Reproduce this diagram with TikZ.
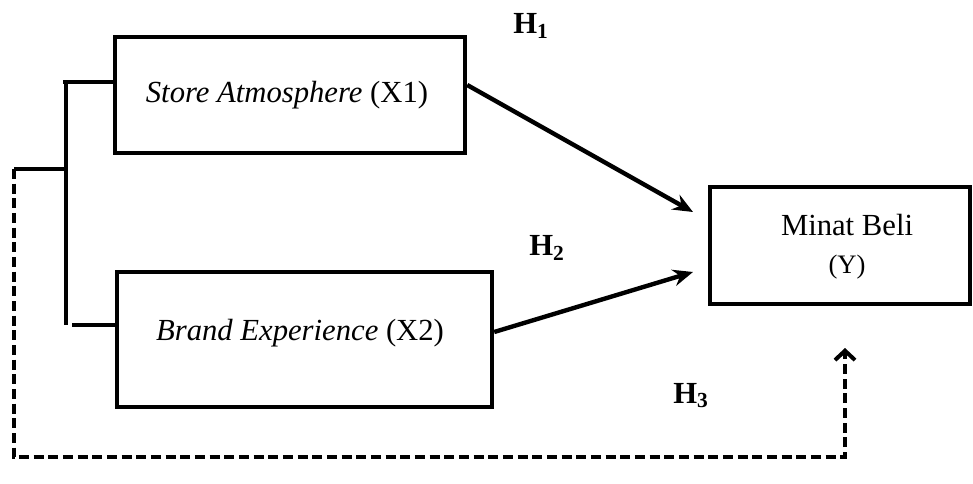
\documentclass[tikz,border=0pt]{standalone}
\usepackage{fontspec}
\setmainfont{Liberation Serif}
\usetikzlibrary{arrows.meta,calc}
\begin{document}
\begin{tikzpicture}[x=0.75pt,y=-0.75pt,
  box/.style={draw,line width=3.3pt,inner sep=0pt},
  txt/.style={font=\fontsize{23}{28}\selectfont,inner sep=0pt},
  hlab/.style={font=\fontsize{23}{28}\selectfont\bfseries,inner sep=0pt,anchor=base},
  thick line/.style={line width=3.3pt},
  bracket/.style={line width=3pt},
  solidarrow/.style={line width=3.3pt,-{Stealth[length=15pt,width=12.5pt,inset=5pt]}},
  dasharrow/.style={line width=3pt,dash pattern=on 7.5pt off 3.5pt,-{Straight Barb[length=7pt,width=15pt,line width=3pt]}}
]
\useasboundingbox (0,0) rectangle (973,484);

% boxes
\node[box,minimum width=262.5pt,minimum height=87pt] (x1) at (290,95) {};
\node[txt] (x1t) at (287,95) {\textit{Store Atmosphere} (X1)};
\node[box,minimum width=281.25pt,minimum height=101.25pt] (x2) at (304.5,339.5) {};
\node[txt] (x2t) at (300,333) {\textit{Brand Experience} (X2)};
\node[box,minimum width=195pt,minimum height=87.75pt] (y) at (840,245.5) {};
\node[txt,anchor=base] (yt1) at (847,236) {Minat Beli};
\node[txt,anchor=base,font=\fontsize{20}{24}\selectfont] (yt2) at (847,274) {(Y)};

% hypothesis labels
\node[hlab] (h1) at (531,34) {H\textsubscript{1}};
\node[hlab] (h2) at (547,256) {H\textsubscript{2}};
\node[hlab] (h3) at (691,403) {H\textsubscript{3}};

% bracket
\coordinate (bt) at (63,82);
\coordinate (bv1) at (66,82);
\coordinate (bv2) at (66,325);
\coordinate (bb) at (72,325);
\coordinate (bm) at (64,169);
\coordinate (dl) at (13.5,169);
\coordinate (dlb) at (13.5,457);
\coordinate (drb) at (845,457);
\coordinate (tip3) at (845,348);

\draw[thick line] (bt) -- (bt -| x1.west);
\draw[bracket] (bv1) -- (bv2);
\draw[bracket] (bb) -- (bb -| x2.west);
\draw[thick line] (bm) -- (dl);

% arrows
\coordinate (tip1) at (693,212);
\coordinate (tip2) at (693,272);
\draw[solidarrow] ($(x1.east)+(0,-10)$) -- (tip1);
\draw[solidarrow] ($(x2.east)+(0,-7.5)$) -- (tip2);

% dashed path
\draw[dasharrow] (dl) -- (dlb) -- (drb) -- (tip3);
\end{tikzpicture}
\end{document}
